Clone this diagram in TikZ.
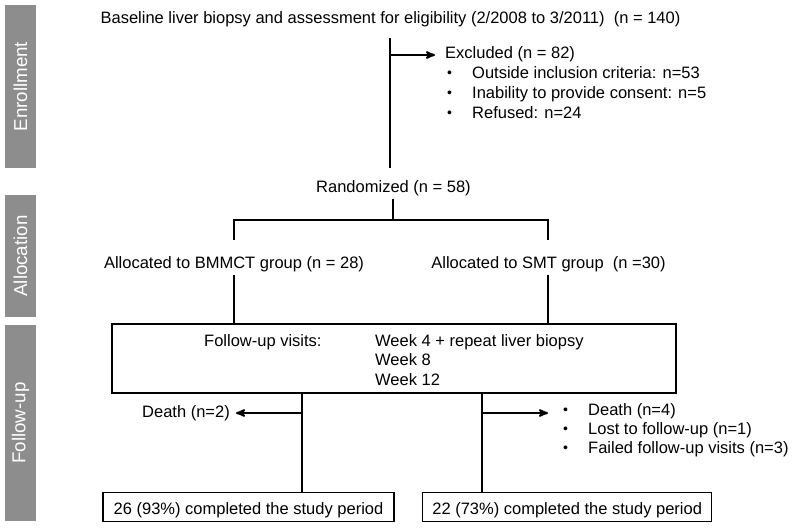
\documentclass[tikz,border=0pt]{standalone}
\usepackage{fontspec}
\setmainfont{Liberation Sans}
\usetikzlibrary{positioning, arrows, calc}
\definecolor{phasegray}{RGB}{141,141,141}
\newcommand{\lbullet}{\makebox[25pt][l]{\raisebox{1pt}{\fontsize{14}{14}\selectfont\textbullet}}}

\begin{document}
\begin{tikzpicture}[x=1pt, y=-1pt,
        flow/.style={line width=2pt},
        arr/.style={flow, -stealth'},
        txt/.style={font=\fontsize{16.5}{20}\selectfont, inner sep=0pt},
        phase/.style={fill=phasegray, text=white, font=\fontsize{18.7}{20}\selectfont,
                      rotate=90, minimum height=31pt, inner sep=0pt},
        box/.style={draw, line width=1.2pt, inner sep=0pt},
        endbox/.style={box, txt, minimum height=29pt, text height=15pt, text depth=0pt}]
        \useasboundingbox (0,0) rectangle (794,527);
        % phases
        \node[phase, minimum width=163pt] (enr)   at (20.5,86.5) {Enrollment};
        \node[phase, minimum width=122pt] (alloc) at (20.5,256)  {Allocation};
        \node[phase, minimum width=196pt] (fol)   at (20.5,423)  {Follow-up};
        % enrollment
        \node[txt, anchor=base] (base) at (390.5,24)
            {Baseline liver biopsy and assessment for eligibility (2/2008 to 3/2011)\ \ (n = 140)};
        \node[txt, anchor=base west] (exc) at (445,59) {Excluded (n = 82)};
        \foreach \t [count=\i] in {Outside inclusion criteria: n=53,
                                   Inability to provide consent: n=5, Refused: n=24}
            \node[txt, anchor=base west] (exc\i) at ($(exc.base west)+(2,19.7*\i)$) {\lbullet\t};
        \coordinate (s1) at (390,38);
        \coordinate (s2) at (390,168);
        \coordinate (s3) at (390,55);
        \draw[flow] (s1) -- (s2);
        \draw[arr, shorten >=10pt] (s3) -- (s3 -| exc.west);
        % randomization
        \node[txt, anchor=base] (rand) at (393.5,192) {Randomized (n = 58)};
        \coordinate (r1) at (393,199);
        \coordinate (r2) at (393,220);
        \coordinate (a1) at (233.5,240);
        \coordinate (a2) at (548,240);
        \draw[flow] (r1) -- (r2);
        \draw[flow] (a1) -- (a1 |- r2) -- (a2 |- r2) -- (a2);
        % allocation
        \node[txt, anchor=base] (bm) at (234,268)   {Allocated to BMMCT group (n = 28)};
        \node[txt, anchor=base] (sm) at (548.5,268) {Allocated to SMT group\ \ (n =30)};
        % follow-up
        \node[box, minimum width=564pt, minimum height=69pt] (fu) at (394,358.5) {};
        \node[txt, anchor=base west] (visits) at (204,346) {Follow-up visits:};
        \foreach \t [count=\i] in {Week 4 + repeat liver biopsy, Week 8, Week 12}
            \node[txt, anchor=base west] (wk\i) at (375,326.5+19.5*\i) {\t};
        \coordinate (b1) at (233.5,275);
        \coordinate (b2) at (548,275);
        \draw[flow] (b1) -- (b1 |- fu.north);
        \draw[flow] (b2) -- (b2 |- fu.north);
        % outcome
        \node[endbox, minimum width=291pt] (done1) at (248.5,507.2) {26 (93\%) completed the study period};
        \node[endbox, minimum width=289pt] (done2) at (567.2,507.2) {22 (73\%) completed the study period};
        \coordinate (d1) at (302,413);
        \coordinate (d2) at (482,413);
        \draw[flow] (d1 |- fu.south) -- (d1 |- done1.north);
        \draw[flow] (d2 |- fu.south) -- (d2 |- done2.north);
        \node[txt, anchor=base east] (dth) at (230,417) {Death (n=2)};
        \draw[arr, shorten >=6pt] (d1) -- (d1 -| dth.east);
        \foreach \t [count=\i] in {Death (n=4), Lost to follow-up (n=1), Failed follow-up visits (n=3)}
            \node[txt, anchor=base west] (lost\i) at (563,396+19*\i) {\lbullet\t};
        \draw[arr, shorten >=15pt] (d2) -- (d2 -| lost1.west);
        %
\end{tikzpicture}
\end{document}
